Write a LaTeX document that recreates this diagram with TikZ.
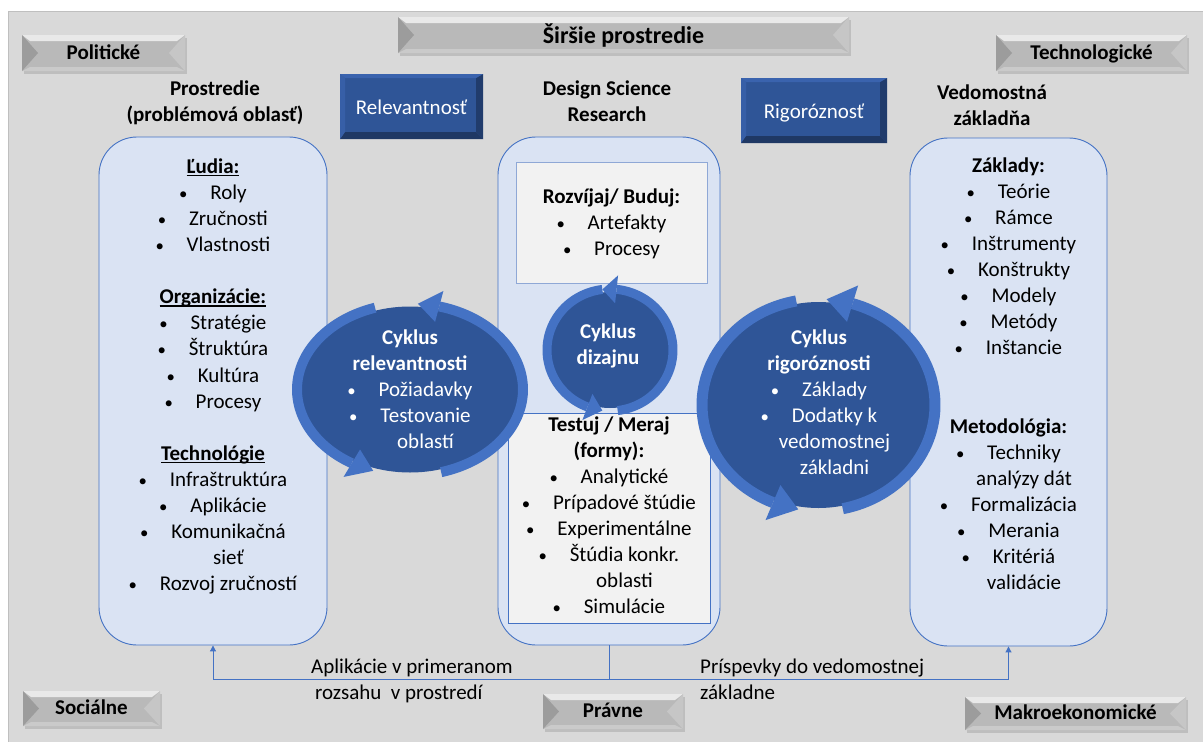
\documentclass[tikz,border=0pt]{standalone}
\usepackage{fontspec}
\usepackage{graphicx}
\setmainfont{Carlito}
\usetikzlibrary{arrows.meta,shadows,shapes.geometric}
\definecolor{bgc}{HTML}{D9D9D9}
\definecolor{pfill}{HTML}{DAE3F3}
\definecolor{pborder}{HTML}{4472C4}
\definecolor{ifill}{HTML}{F2F2F2}
\definecolor{dsblue}{HTML}{2F5597}
\definecolor{bandc}{HTML}{4472C4}
\definecolor{bevdark}{HTML}{1F3864}
\definecolor{bevlight}{HTML}{3A63AE}
\definecolor{gborder}{HTML}{BFBFBF}
\definecolor{ubord}{HTML}{8FA8D6}
\definecolor{gface}{HTML}{B9B9B9}
\definecolor{gtop}{HTML}{E9E9E9}
\definecolor{gleft}{HTML}{9C9C9C}
\definecolor{gright}{HTML}{C6C6C6}
\definecolor{gbot}{HTML}{CACACA}

\newcommand\fsz{\fontsize{21pt}{26.1pt}\selectfont}
\newcommand\fszt{\fontsize{24pt}{28pt}\selectfont}
\newcommand\bitem[1]{\makebox[8pt]{\scalebox{0.8}{\textbullet}}\hspace{23pt}#1}
\newcommand\citem[1]{\hspace*{31pt}#1}
\newcommand\ulbox[1]{\setbox0=\hbox{#1}\rlap{\rule[-3pt]{\wd0}{1.3pt}}\box0}
\newcommand\cycband[7]{%
  \draw[line width=#5pt, draw=bandc] plot[domain=#6:#7, samples=60, variable=\t] ({#1+#3*cos(\t)},{#2+#4*sin(\t)});}
\newcommand\cychead[7]{%
  \fill[bandc] ({#1+(#3+#5)*cos(#6)},{#2+(#4+#5)*sin(#6)}) -- ({#1+(#3-#5)*cos(#6)},{#2+(#4-#5)*sin(#6)}) -- ({#1+#3*cos(#7)},{#2+#4*sin(#7)}) -- cycle;}

\tikzset{
  panel/.style={draw=pborder, fill=pfill, rounded corners=38pt, line width=0.9pt, inner sep=0pt},
  innerbox/.style={fill=ifill, line width=0.9pt, inner sep=0pt},
  txt/.style={align=center, inner sep=0pt, anchor=north, font=\fsz},
  wtxt/.style={txt, text=white},
  conn/.style={draw=pborder, line width=1pt},
  cbody/.style={ellipse, fill=dsblue, inner sep=0pt},
  graybox/.style={inner sep=0pt, font=\fsz\bfseries, text height=16pt, text depth=4pt,
    fill=gface,
    drop shadow={opacity=0.3, shadow xshift=1.5pt, shadow yshift=-2.5pt},
    path picture={
      \fill[gtop] (path picture bounding box.north west) -- (path picture bounding box.north east) -- ([xshift=-8pt,yshift=-6pt]path picture bounding box.north east) -- ([xshift=8pt,yshift=-6pt]path picture bounding box.north west) -- cycle;
      \fill[gbot] (path picture bounding box.south west) -- (path picture bounding box.south east) -- ([xshift=-8pt,yshift=4pt]path picture bounding box.south east) -- ([xshift=8pt,yshift=4pt]path picture bounding box.south west) -- cycle;
      \fill[gleft] (path picture bounding box.north west) -- ([xshift=16pt]path picture bounding box.west) -- (path picture bounding box.south west) -- cycle;
      \fill[gright] (path picture bounding box.north east) -- ([xshift=-16pt]path picture bounding box.east) -- (path picture bounding box.south east) -- cycle;
    }},
  bluebox/.style={fill=dsblue, inner sep=0pt, text=white, font=\fsz, text height=20.5pt, text depth=4pt,
    path picture={
      \fill[bevdark] (path picture bounding box.south west) -- (path picture bounding box.south east) -- ([xshift=-7pt,yshift=7pt]path picture bounding box.south east) -- ([xshift=5pt,yshift=7pt]path picture bounding box.south west) -- cycle;
      \fill[bevdark!85!dsblue] (path picture bounding box.south east) -- (path picture bounding box.north east) -- ([xshift=-7pt,yshift=-4pt]path picture bounding box.north east) -- ([xshift=-7pt,yshift=7pt]path picture bounding box.south east) -- cycle;
      \fill[bevlight] (path picture bounding box.north west) -- (path picture bounding box.north east) -- ([xshift=-7pt,yshift=-4pt]path picture bounding box.north east) -- ([xshift=5pt,yshift=-4pt]path picture bounding box.north west) -- cycle;
      \fill[bevlight!70!dsblue] (path picture bounding box.north west) -- ([xshift=5pt,yshift=-4pt]path picture bounding box.north west) -- ([xshift=5pt,yshift=7pt]path picture bounding box.south west) -- (path picture bounding box.south west) -- cycle;
    }}
}

\begin{document}
\begin{tikzpicture}[x=1pt,y=-1pt]
\useasboundingbox (0,0) rectangle (1203,742);
\fill[white] (0,0) rectangle (1203,742);
\fill[bgc] (8,11) rectangle (1203,742);
\draw[gborder, line width=1pt] (8,742) -- (8,11) -- (1203,11);

% gray context boxes
\node[graybox, minimum width=163pt, minimum height=36pt] (pol) at (103.5,53) {Politické};
\node[graybox, minimum width=191pt, minimum height=36pt] (tech) at (1091.5,53) {Technologické};
\node[graybox, minimum width=451pt, minimum height=36pt, font=\fszt\bfseries, text height=20pt, text depth=4pt] (wide) at (623.5,35) {Širšie prostredie};
\node[graybox, minimum width=137pt, minimum height=35pt] (soc) at (91.5,708.5) {Sociálne};
\node[graybox, minimum width=140pt, minimum height=35pt] (prav) at (613,711.5) {Právne};
\node[graybox, minimum width=221pt, minimum height=33pt] (makro) at (1075.5,713.5) {Makroekonomické};

% blue boxes
\node[bluebox, minimum width=143pt, minimum height=65pt] (rel) at (411.5,106.5) {Relevantnosť};
\node[bluebox, minimum width=146pt, minimum height=65pt] (rig) at (814,110.5) {Rigoróznosť};

% headings
\node[txt] (hleft) at (215,77) {\rule{0pt}{18pt}{\bfseries Prostredie}\\{\bfseries (problémová oblasť)}};
\node[txt] (hmid) at (607,77) {\rule{0pt}{18pt}{\bfseries Design Science}\\{\bfseries Research}};
\node[txt] (hright) at (992,81) {\rule{0pt}{18pt}{\bfseries Vedomostná}\\{\bfseries základňa}};

% panels
\node[panel, minimum width=228pt, minimum height=508pt] (left) at (213,391) {};
\node[panel, minimum width=222pt, minimum height=508pt] (center) at (609,391) {};
\node[panel, minimum width=197pt, minimum height=508pt] (right) at (1008.5,392) {};

\node[innerbox, draw=ubord, minimum width=191pt, minimum height=121pt] (build) at (611.5,222.5) {};
\node[innerbox, draw=pborder, minimum width=202pt, minimum height=210pt] (eval) at (609,518) {};

% connectors
\coordinate (jy) at (0,679);
\draw[conn] (center.south) -- (center.south |- jy) coordinate (j);
\draw[conn, -{Triangle[length=6pt,width=6pt]}] (j) -| (left.south);
\draw[conn, -{Triangle[length=6pt,width=6pt]}] (j) -| (right.south);

% relevance cycle
\node[cbody, minimum width=220pt, minimum height=166pt] (relbody) at (410,389.5) {};
\cycband{410}{389.5}{113}{86}{10}{-75}{74}
\cychead{410}{389.5}{113}{86}{16}{-75}{-86}
\cycband{410}{389.5}{113}{86}{10}{121}{252}
\cychead{410}{389.5}{113}{86}{16}{121}{109}

% rigor cycle
\node[cbody, minimum width=227pt, minimum height=206pt] (rigbody) at (818.5,405) {};
\cycband{818.5}{405}{116.5}{106}{11}{-73}{78}
\cychead{818.5}{405}{116.5}{106}{19}{-73}{-86}
\cycband{818.5}{405}{116.5}{106}{11}{113}{259}
\cychead{818.5}{405}{116.5}{106}{19}{113}{100}

% design cycle
\node[cbody, minimum width=120pt, minimum height=116pt] (desbody) at (610,350) {};
\cycband{610}{350}{63}{61}{9}{-84}{83}
\cychead{610}{350}{63}{61}{14}{-84}{-97}
\cycband{610}{350}{63}{61}{9}{111}{263}
\cychead{610}{350}{63}{61}{14}{111}{97}

% panel texts
\node[txt] (ltxt) at (213,155) {\rule{0pt}{18pt}\ulbox{\bfseries Ľudia:}\\ \bitem{Roly}\\ \bitem{Zručnosti}\\ \bitem{Vlastnosti}\\[26.1pt]
 \ulbox{\bfseries Organizácie:}\\ \bitem{Stratégie}\\ \bitem{Štruktúra}\\ \bitem{Kultúra}\\ \bitem{Procesy}\\[26.1pt]
 \ulbox{\bfseries Technológie}\\ \bitem{Infraštruktúra}\\ \bitem{Aplikácie}\\ \bitem{Komunikačná}\\ \citem{sieť}\\ \bitem{Rozvoj zručností}};

\node[txt] (rtxt) at (1008.5,154) {\rule{0pt}{18pt}{\bfseries Základy:}\\ \bitem{Teórie}\\ \bitem{Rámce}\\ \bitem{Inštrumenty}\\ \bitem{Konštrukty}\\ \bitem{Modely}\\ \bitem{Metódy}\\ \bitem{Inštancie}\\[52.2pt]
 {\bfseries Metodológia:}\\ \bitem{Techniky}\\ \citem{analýzy dát}\\ \bitem{Formalizácia}\\ \bitem{Merania}\\ \bitem{Kritériá}\\ \citem{validácie}};

\node[txt] (btxt) at (611.5,185) {\rule{0pt}{18pt}{\bfseries Rozvíjaj/ Buduj:}\\ \bitem{Artefakty}\\ \bitem{Procesy}};

\node[txt] (etxt) at (609,413) {\rule{0pt}{18pt}{\bfseries Testuj / Meraj}\\ {\bfseries (formy):}\\ \bitem{Analytické}\\ \bitem{Prípadové štúdie}\\ \bitem{Experimentálne}\\ \bitem{Štúdia konkr.}\\ \citem{oblasti}\\ \bitem{Simulácie}};

% cycle texts
\node[wtxt] (reltxt) at (410,326) {\rule{0pt}{18pt}{\bfseries Cyklus}\\ {\bfseries relevantnosti}\\ \bitem{Požiadavky}\\ \bitem{Testovanie}\\ \citem{oblastí}};
\node[wtxt] (rigtxt) at (819,326) {\rule{0pt}{18pt}{\bfseries Cyklus}\\ {\bfseries rigoróznosti}\\ \bitem{Základy}\\ \bitem{Dodatky k}\\ \citem{vedomostnej}\\ \citem{základni}};
\node[wtxt] (destxt) at (608,320) {\rule{0pt}{18pt}{\bfseries Cyklus}\\ {\bfseries dizajnu}};

% connector labels
\node[txt, anchor=north west, align=left] (lapl) at (311,655) {\rule{0pt}{18pt}Aplikácie v primeranom\\ \hspace*{4pt}rozsahu\ \ v prostredí};
\node[txt, anchor=north west, align=left] (lpri) at (700,655) {\rule{0pt}{18pt}Príspevky do vedomostnej\\ základne};
\end{tikzpicture}
\end{document}
